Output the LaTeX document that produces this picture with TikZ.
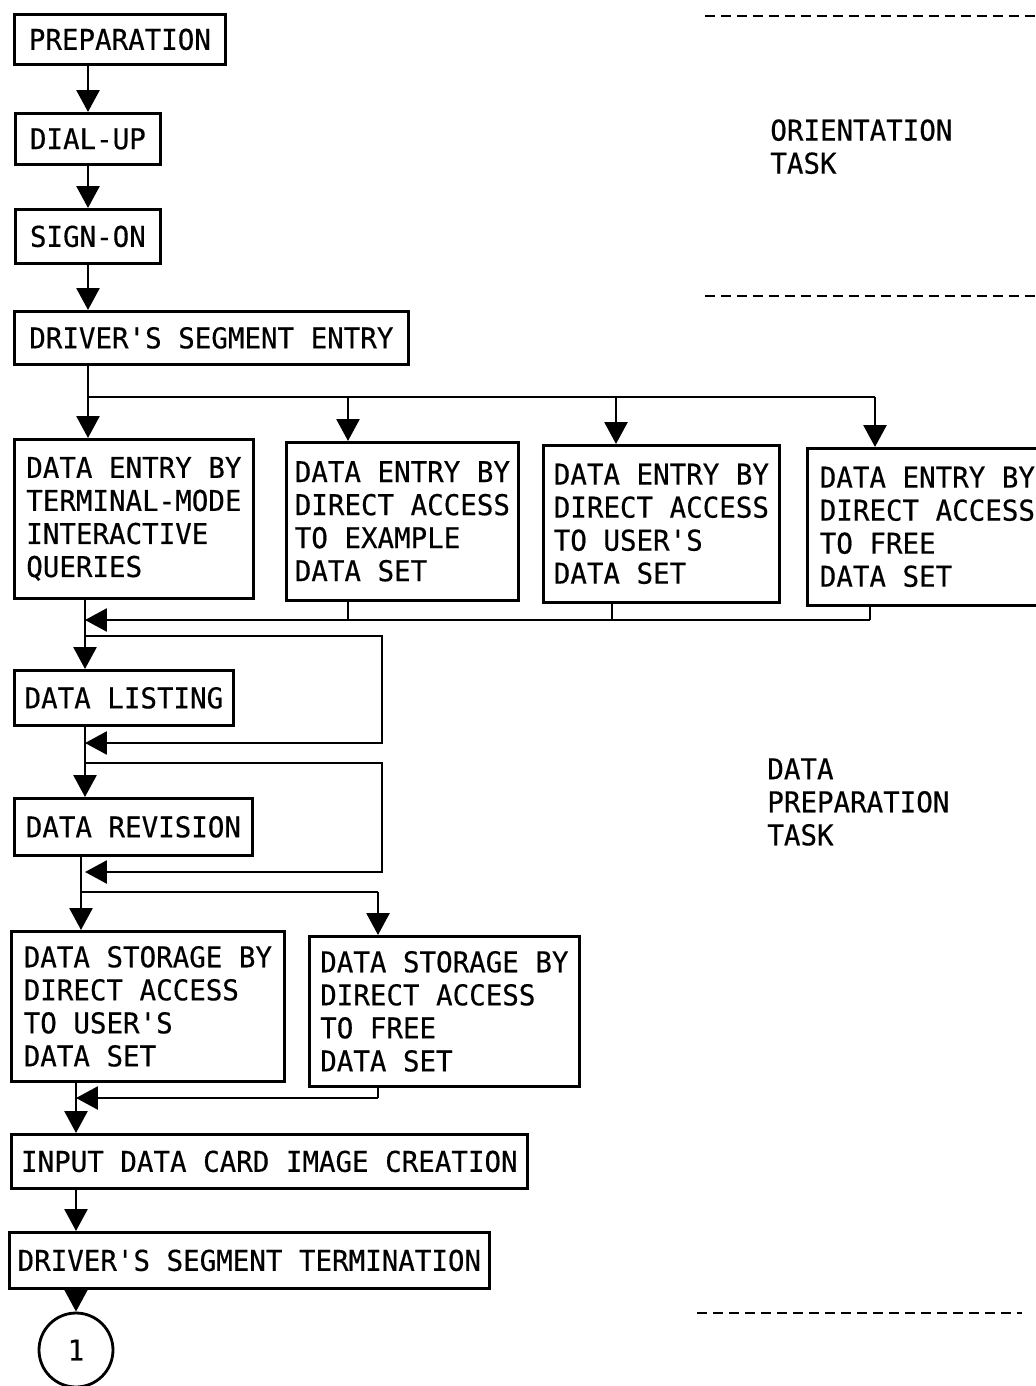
\documentclass[tikz,border=0pt]{standalone}
\usepackage{fontspec}
\setmonofont[FakeBold=0.4,FakeStretch=0.96]{DejaVu Sans Mono}
\usepackage{tikz}
\usetikzlibrary{calc,arrows.meta}

\tikzset{
  blk/.style={draw, line width=1.6pt, anchor=north west, align=left,
    inner sep=0pt,
    font=\ttfamily\fontsize{16.3}{18.8}\selectfont},
  lbl/.style={anchor=north west, align=left, inner sep=0pt,
    font=\ttfamily\fontsize{16.3}{18.8}\selectfont},
  ln/.style={line width=1.6pt},
  arr/.style={line width=1.6pt, -{Triangle[length=0.44cm,width=0.46cm]}},
  sep/.style={line width=1.3pt, dash pattern=on 0.2cm off 0.12cm}
}

\begin{document}
\begin{tikzpicture}[x=0.02cm, y=-0.02cm]
  \useasboundingbox (0,0) rectangle (1035,1386);

  % task borders
  \draw[sep] (705,16) -- (1035,16);
  \draw[sep] (705,296) -- (1035,296);
  \draw[sep] (697,1313) -- (1022,1313);
  \node[lbl] (orient) at (770,119) {ORIENTATION\\TASK};
  \node[lbl] (dprep) at (767,758) {DATA\\PREPARATION\\TASK};

  % main flow
  \node[blk, minimum width=4.22cm, minimum height=1.00cm] (prep) at (13,13) {PREPARATION};
  \node[blk, minimum width=2.90cm, minimum height=1.02cm] (dial) at (14,112) {DIAL-UP};
  \node[blk, minimum width=2.90cm, minimum height=1.08cm] (sign) at (14,208) {SIGN-ON};
  \node[blk, minimum width=7.88cm, minimum height=1.06cm] (drv) at (13,310) {DRIVER'S SEGMENT ENTRY};

  \node[blk, minimum width=4.78cm, minimum height=3.18cm] (e1) at (13,438)
    {DATA ENTRY BY\\TERMINAL-MODE\\INTERACTIVE\\QUERIES};
  \node[blk, minimum width=4.64cm, minimum height=3.16cm] (e2) at (285,441)
    {DATA ENTRY BY\\DIRECT ACCESS\\TO EXAMPLE\\DATA SET};
  \node[blk, minimum width=4.72cm, minimum height=3.14cm] (e3) at (542,444)
    {DATA ENTRY BY\\DIRECT ACCESS\\TO USER'S\\DATA SET};
  \node[blk, minimum width=4.80cm, minimum height=3.14cm] (e4) at (806,447)
    {DATA ENTRY BY\\DIRECT ACCESS\\TO FREE\\DATA SET};

  \node[blk, minimum width=4.38cm, minimum height=1.10cm] (list) at (13,669) {DATA LISTING};
  \node[blk, minimum width=4.76cm, minimum height=1.14cm] (rev) at (13,797) {DATA REVISION};

  \node[blk, minimum width=5.46cm, minimum height=3.00cm] (s1) at (10,930)
    {DATA STORAGE BY\\DIRECT ACCESS\\TO USER'S\\DATA SET};
  \node[blk, minimum width=5.40cm, minimum height=3.00cm] (s2) at (308,935)
    {DATA STORAGE BY\\DIRECT ACCESS\\TO FREE\\DATA SET};

  \node[blk, minimum width=10.32cm, minimum height=1.08cm] (inp) at (10,1133) {INPUT DATA CARD IMAGE CREATION};
  \node[blk, minimum width=9.60cm, minimum height=1.12cm] (term) at (8,1231) {DRIVER'S SEGMENT TERMINATION};
  \node[draw, circle, line width=1.6pt, minimum size=1.48cm, inner sep=0pt,
    font=\ttfamily\fontsize{16.3}{18.8}\selectfont] (one) at (76,1350) {1};

  % spine positions
  \coordinate (spA) at (88,0);
  \coordinate (spB) at (85,0);
  \coordinate (spC) at (81,0);
  \coordinate (spD) at (76,0);

  \draw[arr] (prep.south -| spA) -- (dial.north -| spA);
  \draw[arr] (dial.south -| spA) -- (sign.north -| spA);
  \draw[arr] (sign.south -| spA) -- (drv.north -| spA);

  % fan out to the four entry modes
  \coordinate (c1) at (88,397);
  \coordinate (c2) at (348,397);
  \coordinate (c3) at (616,397);
  \coordinate (c4) at (875,397);
  \draw[ln] (drv.south -| c1) -- (c1) -- (c4);
  \foreach \i in {1,...,4}
    \draw[arr] (c\i) -- (c\i |- e\i.north);

  % gather back
  \coordinate (m2) at (348,620);
  \coordinate (m3) at (612,620);
  \coordinate (m4) at (870,620);
  \foreach \i in {2,3,4}
    \draw[ln] (e\i.south -| m\i) -- (m\i);
  \draw[arr] (m4) -- (m4 -| spB);
  \draw[arr] (e1.south -| spB) -- (list.north -| spB);

  % listing loop
  \coordinate (lp1) at (382,636);
  \coordinate (lp1b) at (382,743);
  \draw[arr] (lp1 -| spB) -- (lp1) -- (lp1b) -- (lp1b -| spB);
  \draw[arr] (list.south -| spB) -- (rev.north -| spB);

  % revision loop
  \coordinate (lp2) at (382,763);
  \coordinate (lp2b) at (382,872);
  \draw[arr] (lp2 -| spB) -- (lp2) -- (lp2b) -- (lp2b -| spB);

  % storage
  \coordinate (b1) at (81,892);
  \coordinate (b2) at (378,892);
  \draw[ln] (rev.south -| b1) -- (b1) -- (b2);
  \draw[arr] (b1) -- (b1 |- s1.north);
  \draw[arr] (b2) -- (b2 |- s2.north);

  \coordinate (j2) at (378,1098);
  \draw[ln] (s2.south -| j2) -- (j2);
  \draw[arr] (j2) -- (j2 -| spD);
  \draw[arr] (s1.south -| spD) -- (inp.north -| spD);
  \draw[arr] (inp.south -| spD) -- (term.north -| spD);
  \draw[arr] (term.south -| spD) -- (one.north);
\end{tikzpicture}
\end{document}
